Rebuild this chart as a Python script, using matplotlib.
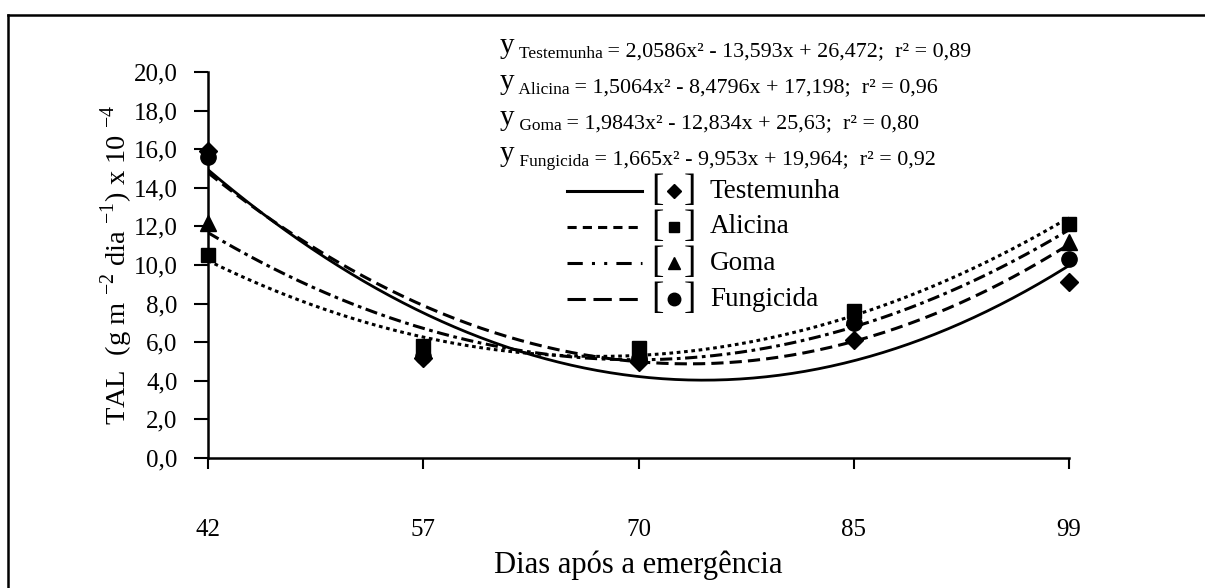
import numpy as np
import matplotlib
matplotlib.use("Agg")
import matplotlib.pyplot as plt
from matplotlib.lines import Line2D

plt.rcParams['font.family'] = ['Liberation Serif', 'DejaVu Serif']
plt.rcParams['mathtext.fontset'] = 'custom'
plt.rcParams['mathtext.rm'] = 'Liberation Serif'

# dados
dias = ['42', '57', '70', '85', '99']
testemunha = [15.9, 5.2, 5.0, 6.1, 9.1]
alicina = [10.5, 5.8, 5.7, 7.6, 12.1]
goma = [12.2, 5.6, 5.5, 7.3, 11.2]
fungicida = [15.6, 5.3, 5.2, 7.0, 10.3]

# coeficientes das equacoes (a, b, c)
coef_testemunha = [2.0586, -13.593, 26.472]
coef_alicina = [1.5064, -8.4796, 17.198]
coef_goma = [1.9843, -12.834, 25.63]
coef_fungicida = [1.665, -9.953, 19.964]

nomes = ['Testemunha', 'Alicina', 'Goma', 'Fungicida']
equacoes = [
    ' = 2,0586x² - 13,593x + 26,472;  r² = 0,89',
    ' = 1,5064x² - 8,4796x + 17,198;  r² = 0,96',
    ' = 1,9843x² - 12,834x + 25,63;  r² = 0,80',
    ' = 1,665x² - 9,953x + 19,964;  r² = 0,92',
]

x = np.arange(1, len(dias) + 1)
xs = np.linspace(1, 5, 200)

fig = plt.figure(figsize=(12.05, 5.88), dpi=100)
ax = fig.add_axes([208 / 1205, 1 - 458 / 588, (1069 - 208) / 1205, (458 - 72) / 588])

# curvas ajustadas
ax.plot(xs, np.polyval(coef_testemunha, xs), color='k', lw=2, ls='-')
ax.plot(xs, np.polyval(coef_alicina, xs), color='k', lw=2.2, ls=(0, (1.2, 1.2)))
ax.plot(xs, np.polyval(coef_goma, xs), color='k', lw=2.2, ls=(0, (4, 2)))
ax.plot(xs, np.polyval(coef_fungicida, xs), color='k', lw=2.2, ls=(0, (4, 1.5, 1.2, 1.5)))

# pontos observados
ax.plot(x, testemunha, 'D', color='k', ms=9.5, ls='none', clip_on=False, zorder=5)
ax.plot(x, alicina, 's', color='k', ms=10, ls='none', clip_on=False, zorder=5)
ax.plot(x, goma, '^', color='k', ms=11, ls='none', clip_on=False, zorder=5)
ax.plot(x, fungicida, 'o', color='k', ms=11, ls='none', clip_on=False, zorder=5)

ax.set_xlim(1, 5)
ax.set_ylim(0, 20)
ax.set_xticks(x)
ax.set_xticklabels(dias)
ax.set_yticks(np.arange(0, 21, 2))
ax.set_yticklabels([f'{v:.1f}'.replace('.', ',') for v in np.arange(0, 21, 2)])
for s in ['top', 'right']:
    ax.spines[s].set_visible(False)
for s in ['left', 'bottom']:
    ax.spines[s].set_linewidth(1.8)
ax.tick_params(axis='y', direction='out', length=10, width=1.5, pad=12, labelsize=18)
ax.tick_params(axis='x', direction='out', length=8, width=1.5, pad=36, labelsize=18)

ax.set_ylabel(r'TAL  (g m $^{\mathregular{-2}}$ dia $^{\mathregular{-1}}$) x 10 $^{\mathregular{-4}}$',
              fontsize=20.5, va='center')
ax.yaxis.set_label_coords(-0.106, 0.5)
ax.set_xlabel('Dias após a emergência', fontsize=22, va='center')
ax.xaxis.set_label_coords(0.5, -0.277)

# equacoes
for i in range(4):
    yy = 1 - (53 + i * 36) / 588
    t_y = fig.text(500 / 1205, yy, 'y', fontsize=21, va='baseline', ha='left')
    t_s = ax.annotate(' ' + nomes[i], xy=(1, 0), xycoords=t_y, xytext=(0, 1),
                      textcoords='offset points', fontsize=12.5, va='baseline', ha='left')
    ax.annotate(equacoes[i], xy=(1, 0), xycoords=t_s, xytext=(0, 4),
                textcoords='offset points', fontsize=15.8, va='baseline', ha='left')

# legenda manual
estilos = ['-', (0, (3, 2)), (0, (5, 3, 1, 3, 1, 3)), (0, (6, 2.5))]
marcadores = ['D', 's', '^', 'o']
tam = [7, 7.5, 9, 9]
for i in range(4):
    yy = 1 - (191 + i * 36) / 588
    fig.add_artist(Line2D([567 / 1205, 642 / 1205], [yy, yy], color='k', lw=2.2, ls=estilos[i]))
    fig.text(651 / 1205, yy, '[', fontsize=27, va='center', ha='left')
    fig.text(684 / 1205, yy, ']', fontsize=27, va='center', ha='left')
    fig.add_artist(Line2D([674 / 1205], [yy], marker=marcadores[i], color='k', ms=tam[i], ls='none'))
    fig.text(710 / 1205, yy, nomes[i], fontsize=19.5, va='center', ha='left')

# moldura
fig.add_artist(Line2D([8 / 1205, 1], [1 - 15 / 588, 1 - 15 / 588], color='k', lw=1.8))
fig.add_artist(Line2D([8 / 1205, 8 / 1205], [0, 1 - 15 / 588], color='k', lw=1.8))

fig.savefig('out.png', dpi=100)
